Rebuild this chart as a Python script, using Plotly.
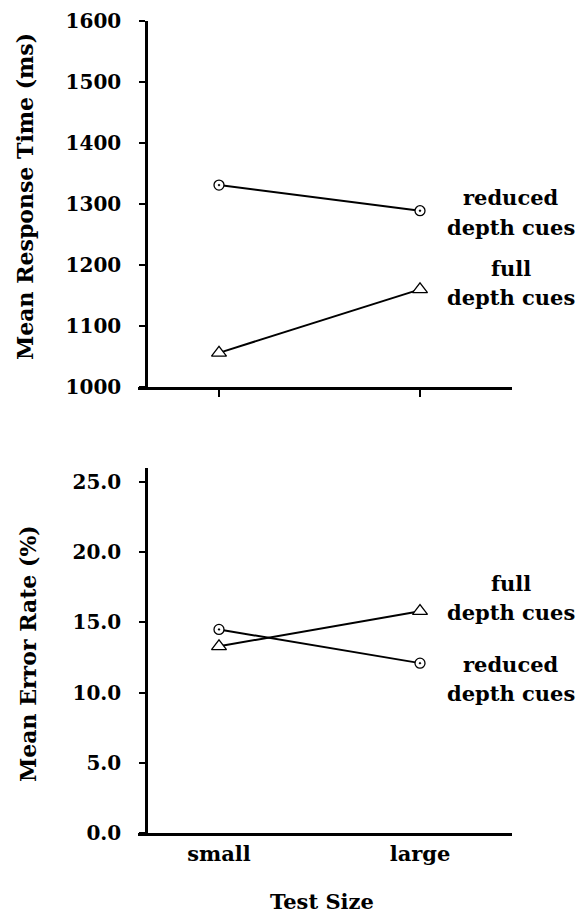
import plotly.graph_objects as go

# ---- data ----
test_size = ["small", "large"]
x_pos = [0, 1]
rt_reduced = [1331, 1289]
rt_full = [1056, 1160]
err_reduced = [14.5, 12.1]
err_full = [13.3, 15.8]
rt_ticks = [1000, 1100, 1200, 1300, 1400, 1500, 1600]
err_ticks = [0, 5, 10, 15, 20, 25]

W, H = 584, 915
FONT = "DejaVu Serif"

def px(v):
    return v / W

def py(v):
    return (H - v) / H

fig = go.Figure()

line_style = dict(color="black", width=2)
circ = dict(symbol="circle-dot", size=10, color="white", line=dict(color="black", width=1.3))
tri = dict(symbol="triangle-up", size=13, color="white", line=dict(color="black", width=1.3))

fig.add_trace(go.Scatter(x=x_pos, y=rt_reduced, mode="lines+markers", line=line_style, marker=circ,
                         xaxis="x", yaxis="y", name="reduced depth cues"))
fig.add_trace(go.Scatter(x=x_pos, y=rt_full, mode="lines+markers", line=line_style, marker=tri,
                         xaxis="x", yaxis="y", name="full depth cues"))
fig.add_trace(go.Scatter(x=x_pos, y=err_reduced, mode="lines+markers", line=line_style, marker=circ,
                         xaxis="x2", yaxis="y2", name="reduced depth cues"))
fig.add_trace(go.Scatter(x=x_pos, y=err_full, mode="lines+markers", line=line_style, marker=tri,
                         xaxis="x2", yaxis="y2", name="full depth cues"))

x_dom = [px(138), px(512)]
x_rng = [(138 - 219) / 201, (512 - 219) / 201]
top_dom = [py(387), py(21)]
bot_dom = [py(833), py(468)]

ytickfont = dict(family=FONT, size=20, color="black", weight="bold")
xtickfont = dict(family=FONT, size=21, color="black", weight="bold")

base_x = dict(domain=x_dom, range=x_rng, showgrid=False, zeroline=False, tickvals=x_pos,
              ticktext=test_size, tickcolor="black", tickwidth=1.5, automargin=False, fixedrange=True)
base_y = dict(showgrid=False, zeroline=False, tickcolor="black", tickwidth=1.5, automargin=False,
              anchor="free", position=px(146), fixedrange=True)

fig.update_layout(
    xaxis=dict(base_x, anchor="y", showline=True, linecolor="black", linewidth=2.5,
               ticks="outside", ticklen=7, showticklabels=False),
    yaxis=dict(base_y, domain=top_dom, range=[1000, 1600], tickvals=rt_ticks, showline=True,
               linecolor="black", linewidth=2.5, ticks="outside", ticklen=6, tickfont=ytickfont,
               ticklabelstandoff=14),
    xaxis2=dict(base_x, anchor="y2", showline=True, linecolor="black", linewidth=2.5,
                ticks="", tickfont=xtickfont, ticklabelstandoff=0),
    yaxis2=dict(base_y, domain=bot_dom, range=[0, 26], tickvals=err_ticks, tickformat=".1f",
                showline=True, linecolor="black", linewidth=2.5, ticks="outside", ticklen=6,
                tickfont=ytickfont, ticklabelstandoff=14),
    # overlay axes so the tick marks cross the axis lines
    xaxis3=dict(base_x, anchor="y", overlaying="x", ticks="inside", ticklen=7, showticklabels=False, showline=False),
    yaxis3=dict(base_y, domain=top_dom, range=[1000, 1600], tickvals=rt_ticks, overlaying="y",
                ticks="inside", ticklen=6, showticklabels=False, showline=False),
    xaxis4=dict(base_x, anchor="y2", overlaying="x2", ticks="inside", ticklen=7, showticklabels=False, showline=False),
    xaxis5=dict(base_x, anchor="y2", overlaying="x2", ticks="outside", ticklen=7, showticklabels=False, showline=False),
    yaxis4=dict(base_y, domain=bot_dom, range=[0, 26], tickvals=err_ticks, overlaying="y2",
                ticks="inside", ticklen=6, showticklabels=False, showline=False),
)

lab_font = dict(family=FONT, size=21, color="black", weight="bold")
annotations = []

def add_lab(text, x, y, xref="x", yref="y"):
    annotations.append(dict(text=text, x=x, y=y, xref=xref, yref=yref, showarrow=False,
                            font=lab_font, xanchor="center", yanchor="middle"))

lx = (511 - 219) / 201
add_lab("reduced", lx, 1311, "x", "y")
add_lab("depth cues", lx, 1262, "x", "y")
add_lab("full", lx, 1195, "x", "y")
add_lab("depth cues", lx, 1146, "x", "y")
add_lab("full", lx, 17.8, "x2", "y2")
add_lab("depth cues", lx, 15.74, "x2", "y2")
add_lab("reduced", lx, 11.97, "x2", "y2")
add_lab("depth cues", lx, 9.97, "x2", "y2")

title_font = dict(family=FONT, size=22, color="black", weight="bold")
annotations.append(dict(text="Mean Response Time (ms)", x=px(25), y=py(197), xref="paper", yref="paper",
                        textangle=-90, showarrow=False, font=title_font, xanchor="center", yanchor="middle"))
annotations.append(dict(text="Mean Error Rate (%)", x=px(28), y=py(654), xref="paper", yref="paper",
                        textangle=-90, showarrow=False, font=title_font, xanchor="center", yanchor="middle"))
annotations.append(dict(text="Test Size", x=px(322), y=py(901), xref="paper", yref="paper",
                        showarrow=False, font=dict(title_font, size=21), xanchor="center", yanchor="middle"))

fig.update_layout(
    width=W, height=H, margin=dict(l=0, r=0, t=0, b=0),
    paper_bgcolor="white", plot_bgcolor="white", showlegend=False,
    font=dict(family=FONT, color="black", size=18),
    annotations=annotations,
)

fig.write_html("out.html", config={"displayModeBar": False})
